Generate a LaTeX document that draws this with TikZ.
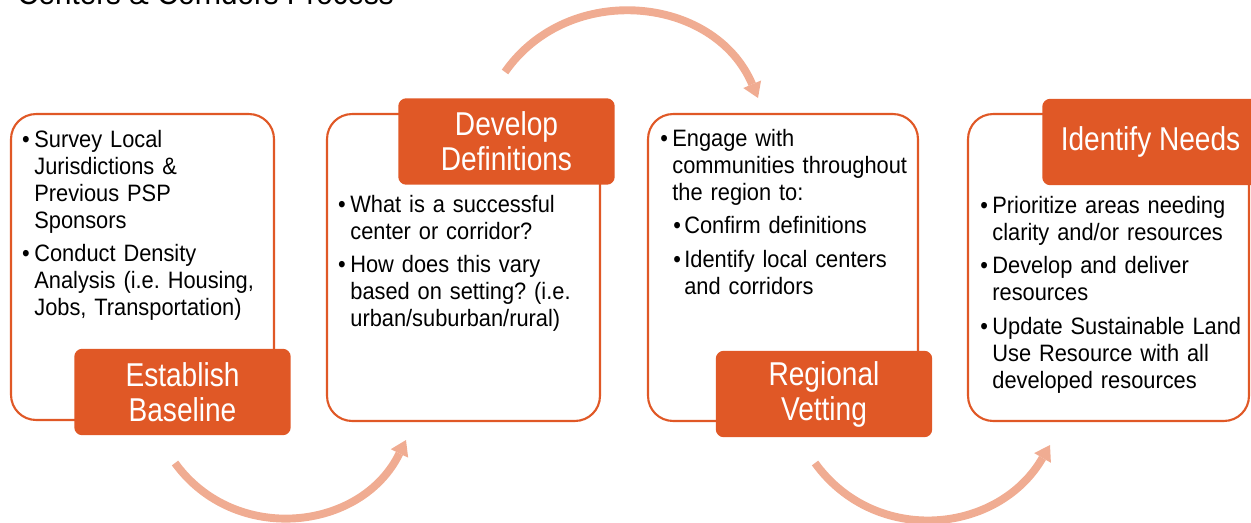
\documentclass[tikz,border=0pt]{standalone}
\usepackage{fontspec}
\setmainfont{Liberation Sans}[FakeStretch=0.92]
\newfontfamily\labelfont{Liberation Sans}[FakeStretch=0.85]
\usetikzlibrary{arrows.meta}
\definecolor{procorange}{HTML}{E05826}
\definecolor{procarrow}{HTML}{F0AC92}
\frenchspacing
\newcommand{\bitem}[1]{\hangindent=5.7pt\hangafter=1\noindent\makebox[5.7pt][l]{\hspace*{-1.2pt}\textbullet}#1\par}
\newcommand{\bsubitem}[1]{\hangindent=12.5pt\hangafter=1\noindent\hspace*{7.4pt}\makebox[5.1pt][l]{\hspace*{-1.2pt}\textbullet}#1\par}

\begin{document}
\begin{tikzpicture}[x=0.02cm, y=0.02cm,
    stagebox/.style={draw=procorange, line width=1.2pt, fill=white, rounded corners=0.5cm},
    stagelabel/.style={fill=procorange, text=white, rounded corners=0.16cm, align=center,
      minimum width=4.33cm, minimum height=1.73cm, inner sep=0pt,
      font=\labelfont\fontsize{18.8}{19.9}\selectfont},
    stagetext/.style={anchor=base west, inner sep=0pt, text width=160pt, align=left,
      font=\fontsize{13.5}{15.4}\selectfont, execute at begin node={\setlength{\parskip}{3.7pt}}},
    cyclearrow/.style={draw=procarrow, line width=4.5pt, -{Triangle[length=8.5pt,width=11pt,line width=0pt]}}]
    \useasboundingbox (0,0) rectangle (1251,522);
    \node[anchor=base west, inner sep=0pt, font=\fontsize{18.3}{20}\selectfont] (title) at (17,518) {Centers \& Corridors Process};

    \node[stagebox, minimum width=5.26cm, minimum height=6.12cm] (base) at (142.5,255) {};
    \node[stagebox, minimum width=5.46cm, minimum height=6.14cm] (defs) at (463.5,254.5) {};
    \node[stagebox, minimum width=5.40cm, minimum height=6.14cm] (vetting) at (783,254.5) {};
    \node[stagebox, minimum width=5.62cm, minimum height=6.14cm] (needs) at (1108.5,254.5) {};

    \node[stagelabel] (baselab) at (182.5,130) {Establish\\Baseline};
    \node[stagelabel] (defslab) at (506.5,380.5) {Develop\\Definitions};
    \node[stagelabel] (vettinglab) at (824,128) {Regional\\Vetting};
    \node[stagelabel] (needslab) at (1150.5,380) {Identify Needs};

    \node[stagetext] (basetxt) at (24,375) {\bitem{Survey Local\newline Jurisdictions \&\newline Previous PSP\newline Sponsors}\bitem{Conduct Density\newline Analysis (i.e. Housing,\newline Jobs, Transportation)}};
    \node[stagetext] (defstxt) at (340,310) {\bitem{What is a successful\newline center or corridor?}\bitem{How does this vary\newline based on setting? (i.e.\newline urban/suburban/rural)}};
    \node[stagetext] (vettingtxt) at (662,376) {\bitem{Engage with\newline communities throughout\newline the region to:}\bsubitem{Confirm definitions}\bsubitem{Identify local centers\newline and corridors}};
    \node[stagetext] (needstxt) at (982,309) {\bitem{Prioritize areas needing\newline clarity and/or resources}\bitem{Develop and deliver\newline resources}\bitem{Update Sustainable Land\newline Use Resource with all\newline developed resources}};

    \coordinate (a1s) at (175,59);
    \coordinate (a1e) at (406,82);
    \coordinate (a2s) at (505,450);
    \coordinate (a2e) at (758,424);
    \coordinate (a3s) at (815,59);
    \coordinate (a3e) at (1050,77);
    \draw[cyclearrow] (a1s) to[out=306, in=244, looseness=1.12] (a1e);
    \draw[cyclearrow] (a2s) to[out=55, in=113, looseness=1.12] (a2e);
    \draw[cyclearrow] (a3s) to[out=306, in=240, looseness=1.12] (a3e);
\end{tikzpicture}
\end{document}
